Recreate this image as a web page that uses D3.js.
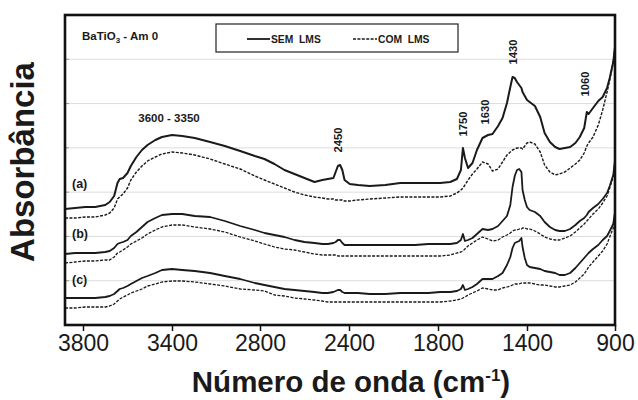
<!DOCTYPE html>
<html>
<head>
<meta charset="utf-8">
<script src="https://cdn.jsdelivr.net/npm/d3@7/dist/d3.min.js"></script>
<style>
  html, body { margin: 0; padding: 0; background: #fff; }
  svg { display: block; }
  text { font-family: "Liberation Sans", Arial, Helvetica, sans-serif; fill: #1a1a1a; }
</style>
</head>
<body>
<svg id="chart" width="638" height="400"></svg>
<script>
// FTIR spectra of BaTiO3 (Am 0): samples (a), (b), (c), with and without LMS.
const wavenumbers = [3880, 3835, 3790, 3745, 3700, 3680, 3660, 3645, 3635, 3620, 3600, 3585, 3560, 3535, 3510, 3475, 3445, 3400, 3330, 3245,
  3140, 3040, 2935, 2835, 2780, 2735, 2690, 2645, 2600, 2555, 2520, 2495, 2470, 2460, 2450, 2440, 2430, 2420, 2395, 2340,
  2260, 2155, 2055, 1955, 1865, 1790, 1745, 1715, 1697, 1688, 1679, 1665, 1645, 1625, 1600, 1575, 1555, 1530, 1510, 1490,
  1475, 1465, 1455, 1445, 1435, 1425, 1420, 1410, 1400, 1385, 1355, 1325, 1300, 1270, 1240, 1215, 1185, 1155, 1125, 1100,
  1075, 1060, 1050, 1025, 995, 970, 945, 930, 910, 900];

// (a) sem LMS
const aSem = [1.16, 1.17, 1.18, 1.18, 1.20, 1.23, 1.29, 1.42, 1.46, 1.47, 1.52, 1.59, 1.68, 1.75, 1.80, 1.85, 1.88, 1.90, 1.89, 1.87,
  1.83, 1.79, 1.74, 1.69, 1.66, 1.61, 1.55, 1.51, 1.47, 1.43, 1.45, 1.46, 1.47, 1.53, 1.59, 1.60, 1.55, 1.45, 1.41, 1.40,
  1.39, 1.40, 1.42, 1.42, 1.42, 1.42, 1.43, 1.46, 1.55, 1.77, 1.67, 1.57, 1.62, 1.75, 1.87, 1.90, 1.91, 1.99, 2.07, 2.22,
  2.38, 2.48, 2.47, 2.43, 2.40, 2.37, 2.33, 2.29, 2.25, 2.23, 2.19, 2.08, 1.92, 1.83, 1.78, 1.76, 1.77, 1.78, 1.82, 1.88,
  1.97, 2.13, 2.11, 2.17, 2.24, 2.28, 2.37, 2.47, 2.63, 2.78];
// (a) com LMS
const aCom = [1.07, 1.07, 1.08, 1.08, 1.10, 1.12, 1.17, 1.26, 1.28, 1.31, 1.37, 1.45, 1.53, 1.59, 1.64, 1.68, 1.71, 1.73, 1.72, 1.70,
  1.66, 1.61, 1.56, 1.49, 1.45, 1.41, 1.37, 1.33, 1.30, 1.28, 1.27, 1.26, 1.26, 1.25, 1.25, 1.25, 1.25, 1.24, 1.24, 1.25,
  1.26, 1.27, 1.28, 1.28, 1.28, 1.28, 1.29, 1.32, 1.35, 1.37, 1.40, 1.45, 1.51, 1.56, 1.63, 1.61, 1.54, 1.56, 1.63, 1.70,
  1.73, 1.75, 1.76, 1.77, 1.77, 1.77, 1.76, 1.79, 1.82, 1.83, 1.81, 1.73, 1.60, 1.53, 1.50, 1.51, 1.53, 1.57, 1.61, 1.65,
  1.72, 1.79, 1.82, 1.88, 2.00, 2.15, 2.33, 2.45, 2.63, 2.77];
// (b) sem LMS
const bSem = [0.71, 0.72, 0.72, 0.72, 0.73, 0.74, 0.77, 0.81, 0.82, 0.83, 0.85, 0.89, 0.93, 0.98, 1.03, 1.07, 1.10, 1.11, 1.11, 1.09,
  1.08, 1.04, 0.99, 0.95, 0.92, 0.90, 0.88, 0.85, 0.83, 0.82, 0.81, 0.81, 0.82, 0.83, 0.85, 0.85, 0.82, 0.80, 0.80, 0.80,
  0.80, 0.80, 0.80, 0.80, 0.81, 0.81, 0.81, 0.82, 0.85, 0.91, 0.84, 0.85, 0.87, 0.91, 0.96, 0.95, 0.96, 0.99, 1.04, 1.09,
  1.20, 1.38, 1.49, 1.55, 1.56, 1.53, 1.35, 1.25, 1.18, 1.15, 1.13, 1.09, 1.03, 0.98, 0.95, 0.94, 0.94, 0.96, 1.00, 1.04,
  1.07, 1.10, 1.13, 1.17, 1.21, 1.26, 1.32, 1.39, 1.50, 1.65];
// (b) com LMS
const bCom = [0.62, 0.63, 0.64, 0.64, 0.65, 0.65, 0.68, 0.72, 0.73, 0.75, 0.78, 0.81, 0.84, 0.87, 0.91, 0.95, 0.98, 1.00, 1.00, 0.98,
  0.96, 0.93, 0.88, 0.84, 0.81, 0.78, 0.76, 0.75, 0.73, 0.71, 0.70, 0.70, 0.70, 0.70, 0.69, 0.69, 0.69, 0.69, 0.69, 0.69,
  0.69, 0.69, 0.69, 0.69, 0.69, 0.69, 0.70, 0.72, 0.73, 0.74, 0.76, 0.79, 0.82, 0.85, 0.88, 0.86, 0.84, 0.85, 0.88, 0.90,
  0.92, 0.94, 0.95, 0.95, 0.96, 0.96, 0.97, 0.97, 0.96, 0.96, 0.94, 0.91, 0.88, 0.86, 0.85, 0.85, 0.87, 0.89, 0.93, 0.97,
  1.01, 1.04, 1.06, 1.11, 1.16, 1.22, 1.29, 1.37, 1.48, 1.63];
// (c) sem LMS
const cSem = [0.27, 0.27, 0.27, 0.27, 0.28, 0.29, 0.31, 0.34, 0.36, 0.37, 0.39, 0.41, 0.44, 0.47, 0.49, 0.52, 0.55, 0.56, 0.55, 0.54,
  0.52, 0.49, 0.46, 0.42, 0.40, 0.38, 0.36, 0.35, 0.34, 0.33, 0.32, 0.32, 0.33, 0.34, 0.35, 0.35, 0.33, 0.32, 0.32, 0.32,
  0.31, 0.31, 0.32, 0.32, 0.32, 0.33, 0.33, 0.34, 0.36, 0.40, 0.35, 0.36, 0.38, 0.41, 0.46, 0.46, 0.46, 0.49, 0.52, 0.60,
  0.68, 0.77, 0.82, 0.83, 0.84, 0.87, 0.78, 0.67, 0.60, 0.58, 0.57, 0.56, 0.54, 0.53, 0.52, 0.50, 0.50, 0.52, 0.57, 0.62,
  0.67, 0.70, 0.72, 0.76, 0.80, 0.85, 0.89, 0.94, 1.01, 1.13];
// (c) com LMS
const cCom = [0.17, 0.17, 0.18, 0.18, 0.18, 0.19, 0.21, 0.24, 0.26, 0.28, 0.30, 0.32, 0.34, 0.36, 0.39, 0.41, 0.43, 0.44, 0.44, 0.43,
  0.41, 0.39, 0.36, 0.35, 0.34, 0.30, 0.29, 0.27, 0.26, 0.25, 0.24, 0.23, 0.23, 0.23, 0.23, 0.23, 0.23, 0.23, 0.23, 0.23,
  0.23, 0.23, 0.23, 0.23, 0.23, 0.23, 0.24, 0.25, 0.26, 0.27, 0.28, 0.30, 0.32, 0.34, 0.37, 0.36, 0.35, 0.35, 0.37, 0.38,
  0.39, 0.40, 0.41, 0.41, 0.41, 0.42, 0.42, 0.42, 0.42, 0.42, 0.41, 0.40, 0.40, 0.39, 0.38, 0.38, 0.39, 0.40, 0.43, 0.47,
  0.51, 0.55, 0.58, 0.63, 0.69, 0.74, 0.81, 0.88, 0.97, 1.11];

const xTicks = [3800, 3400, 2800, 2400, 1800, 1400, 900];
const sampleLabels = ["(a)", "(b)", "(c)"];
const sampleLabelY = [1.37, 0.87, 0.41];
const bandLabels = ["2450", "1750", "1630", "1430", "1060"];
const bandLabelPos = [2450, 1688, 1590, 1465, 1070];
const bandLabelY = [1.85, 2.01, 2.13, 2.73, 2.41];
const yMax = 3.10;
const gridCount = 7;

const svg = d3.select("#chart");
const plotL = 65, plotR = 615, plotT = 15, plotB = 325;

// Wavenumber axis: each labelled interval spans the same width.
const x = d3.scaleLinear()
  .domain([3880].concat(xTicks))
  .range([plotL, 83, 172, 260, 349, 438, 527, plotR]);
const y = d3.scaleLinear().domain([0, yMax]).range([plotB, plotT]);

// horizontal grid
const gridVals = d3.range(1, gridCount).map(i => i * yMax / gridCount);
svg.append("g").selectAll("line").data(gridVals).join("line")
  .attr("x1", plotL).attr("x2", plotR)
  .attr("y1", d => y(d)).attr("y2", d => y(d))
  .attr("stroke", "#dcdcdc").attr("stroke-width", 1);
svg.append("g").selectAll("line").data(gridVals).join("line")
  .attr("x1", plotL).attr("x2", plotL + 4)
  .attr("y1", d => y(d)).attr("y2", d => y(d))
  .attr("stroke", "#9a9a9a").attr("stroke-width", 1);

// spectra
const line = d3.line().x((d, i) => x(wavenumbers[i])).y(d => y(d));
const series = [
  { v: aSem, dash: null, w: 2.0 },
  { v: aCom, dash: "3,1.4", w: 1.4 },
  { v: bSem, dash: null, w: 1.8 },
  { v: bCom, dash: "3,1.4", w: 1.3 },
  { v: cSem, dash: null, w: 1.8 },
  { v: cCom, dash: "3,1.4", w: 1.3 }
];
svg.append("g").selectAll("path").data(series).join("path")
  .attr("d", d => line(d.v))
  .attr("fill", "none")
  .attr("stroke", "#1a1a1a")
  .attr("stroke-width", d => d.w)
  .attr("stroke-linejoin", "round")
  .attr("stroke-dasharray", d => d.dash);

// frame
svg.append("rect")
  .attr("x", plotL).attr("y", plotT)
  .attr("width", plotR - plotL).attr("height", plotB - plotT)
  .attr("fill", "none").attr("stroke", "#111").attr("stroke-width", 2.6);

// x axis
const xAxis = svg.append("g")
  .attr("transform", `translate(0,${plotB})`)
  .call(d3.axisBottom(x).tickValues(xTicks).tickSize(6).tickPadding(4).tickFormat(d3.format("d")));
xAxis.select(".domain").remove();
xAxis.selectAll(".tick line").attr("stroke", "#111").attr("stroke-width", 1.5);
xAxis.selectAll(".tick text")
  .style("font-size", "23px").style("font-family", "'Liberation Sans', Arial, sans-serif")
  .attr("fill", "#222");

// axis titles
const xt = svg.append("text")
  .attr("x", 351).attr("y", 392)
  .attr("text-anchor", "middle")
  .style("font-size", "29.5px").style("font-weight", "bold");
xt.append("tspan").text("Número de onda (cm");
xt.append("tspan").text("-1").attr("dy", -11).style("font-size", "17px");
xt.append("tspan").text(")").attr("dy", 11);

svg.append("text")
  .attr("transform", "translate(34,162) rotate(-90)")
  .attr("text-anchor", "middle")
  .style("font-size", "33px").style("font-weight", "bold")
  .text("Absorbância");

// title inside the plot
const tt = svg.append("text").attr("x", 82).attr("y", 40)
  .style("font-size", "11.5px").style("font-weight", "bold");
tt.append("tspan").text("BaTiO");
tt.append("tspan").text("3").attr("dy", 3).style("font-size", "8px");
tt.append("tspan").text(" - Am 0").attr("dy", -3);

// legend
const lg = svg.append("g");
lg.append("rect").attr("x", 216).attr("y", 24).attr("width", 242).attr("height", 28)
  .attr("fill", "#fff").attr("stroke", "#222").attr("stroke-width", 1.2);
lg.append("line").attr("x1", 247).attr("x2", 270).attr("y1", 39).attr("y2", 39)
  .attr("stroke", "#1a1a1a").attr("stroke-width", 1.8);
lg.append("text").attr("x", 271).attr("y", 42.5).style("font-size", "10.3px").style("font-weight", "bold")
  .attr("xml:space", "preserve").text("SEM  LMS");
lg.append("line").attr("x1", 353).attr("x2", 377).attr("y1", 39).attr("y2", 39)
  .attr("stroke", "#1a1a1a").attr("stroke-width", 1.3).attr("stroke-dasharray", "3,1.4");
lg.append("text").attr("x", 378).attr("y", 42.5).style("font-size", "10.3px").style("font-weight", "bold")
  .attr("xml:space", "preserve").text("COM  LMS");

// band annotations
svg.append("text").attr("x", 169).attr("y", 122).attr("text-anchor", "middle")
  .style("font-size", "11.5px").style("font-weight", "bold").text("3600 - 3350");
svg.append("g").selectAll("text").data(bandLabels).join("text")
  .attr("transform", (d, i) => `translate(${x(bandLabelPos[i]) + 4},${y(bandLabelY[i])}) rotate(-90)`)
  .attr("text-anchor", "middle")
  .style("font-size", "11.2px").style("font-weight", "bold")
  .text(d => d);

// sample labels
svg.append("g").selectAll("text").data(sampleLabels).join("text")
  .attr("x", 72).attr("y", (d, i) => y(sampleLabelY[i]))
  .style("font-size", "12.5px").style("font-weight", "bold")
  .text(d => d);
</script>
</body>
</html>
